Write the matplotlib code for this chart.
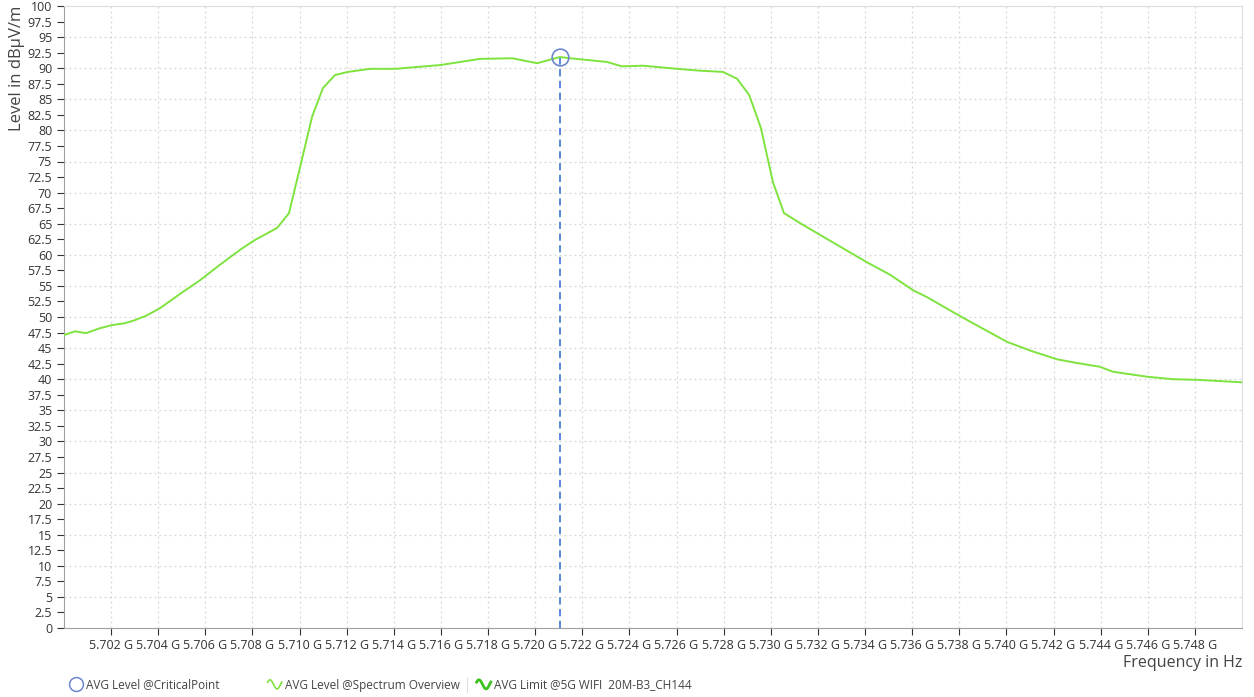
import numpy as np
import matplotlib
matplotlib.use("Agg")
import matplotlib.pyplot as plt
from matplotlib.lines import Line2D
from matplotlib.legend_handler import HandlerBase
from matplotlib.ticker import FuncFormatter, MultipleLocator

# spectrum trace (frequency in GHz, level in dBuV/m)
freq_ghz = [5.70000, 5.70047, 5.70093, 5.70153, 5.70204, 5.70259, 5.70301, 5.70348,
            5.70407, 5.70492, 5.70577, 5.70662, 5.70747, 5.70811, 5.70904, 5.70955,
            5.71002, 5.71053, 5.71099, 5.71150, 5.71205, 5.71299, 5.71405, 5.71596,
            5.71766, 5.71902, 5.72008, 5.72105, 5.72148, 5.72305, 5.72368, 5.72458,
            5.72602, 5.72700, 5.72797, 5.72857, 5.72908, 5.72958, 5.73009, 5.73056,
            5.73124, 5.73209, 5.73408, 5.73506, 5.73604, 5.73663, 5.73773, 5.73858,
            5.74003, 5.74109, 5.74215, 5.74300, 5.74397, 5.74452, 5.74597, 5.74707,
            5.74809, 5.74907, 5.75000]
level = [47.1, 47.7, 47.4, 48.2, 48.7, 49.0, 49.5, 50.2,
         51.4, 53.7, 55.9, 58.4, 60.8, 62.4, 64.3, 66.7,
         74.1, 82.2, 86.8, 88.9, 89.4, 89.9, 89.9, 90.5,
         91.5, 91.6, 90.8, 91.8, 91.6, 91.0, 90.3, 90.4,
         89.9, 89.6, 89.4, 88.3, 85.7, 80.4, 71.7, 66.7,
         65.1, 63.2, 58.8, 56.8, 54.3, 53.2, 50.8, 49.0,
         46.0, 44.5, 43.2, 42.6, 42.0, 41.2, 40.4, 40.0,
         39.9, 39.7, 39.5]

critical_freq = 5.72105
critical_level = 91.8

x_ticks = [5.702 + 0.002 * i for i in range(24)]   # 5.702 ... 5.748

legend_labels = ["AVG Level @CriticalPoint", "AVG Level @Spectrum Overview",
                 "AVG Limit @5G WIFI  20M-B3_CH144"]

trace_color = "#7fe33f"
limit_color = "#3cc21e"
marker_color = "#6e86cc"

plt.rcParams['font.family'] = ['Open Sans', 'DejaVu Sans']


class WaveHandler(HandlerBase):
    '''draws a small sine wave as the legend symbol'''
    def create_artists(self, legend, orig_handle, xdescent, ydescent,
                       width, height, fontsize, trans):
        t = np.linspace(0, 1, 30)
        xs = -xdescent + t * width
        ys = -ydescent + height / 2 + np.sin(t * 2 * np.pi + np.pi / 6) * height * 0.55
        ln = Line2D(xs, ys, color=orig_handle.get_color(),
                    lw=orig_handle.get_linewidth(), transform=trans)
        return [ln]


fig = plt.figure(figsize=(12.54, 6.97), dpi=100)
ax = fig.add_axes([64 / 1254, 69 / 697, 1178 / 1254, 622 / 697])

ax.plot(freq_ghz, level, color=trace_color, lw=1.4, zorder=3)
ax.plot([critical_freq, critical_freq], [0, critical_level], color="#4a7fd6",
        lw=1.3, ls=(0, (4, 2.5)), zorder=2)
ax.plot(critical_freq, critical_level, 'o', ms=12, mfc='none', mec=marker_color,
        mew=1.2, zorder=4)

ax.set_xlim(5.700, 5.750)
ax.set_ylim(0, 100)
ax.set_xticks(x_ticks)
ax.yaxis.set_major_locator(MultipleLocator(2.5))
ax.xaxis.set_major_formatter(FuncFormatter(lambda v, p: f"{v:.3f} G"))
ax.yaxis.set_major_formatter(FuncFormatter(lambda v, p: f"{v:g}"))

# dotted grid: vertical at every x tick, horizontal every 5
ax.grid(axis='x', color='#d6d6d6', ls=(0, (1.5, 2.5)), lw=0.9)
for g in np.arange(5, 100, 5):
    ax.axhline(g, color='#d6d6d6', ls=(0, (1.5, 2.5)), lw=0.9, zorder=0)

ax.tick_params(axis='both', labelsize=9, colors='#333333', length=5, width=0.8)
ax.tick_params(axis='x', pad=3)
for side in ['left', 'bottom']:
    ax.spines[side].set_color('#a0a0a0')
for side in ['top', 'right']:
    ax.spines[side].set_color('#dddddd')

ax.set_ylabel("Level in dBμV/m", fontsize=12, color='#444444', loc='top', labelpad=2)
ax.set_xlabel("Frequency in Hz", fontsize=11.5, color='#444444', loc='right', labelpad=2)

# legend entries along the bottom
h_crit = Line2D([], [], marker='o', ls='none', ms=10, mfc='none', mec=marker_color, mew=1.1)
h_trace = Line2D([], [], color=trace_color, lw=1.2)
h_limit = Line2D([], [], color=limit_color, lw=2.0)
anchors = [58, 257, 466]
for h, lab, xa in zip([h_crit, h_trace, h_limit], legend_labels, anchors):
    fig.legend([h], [lab], loc='center left', bbox_to_anchor=(xa / 1254, 12 / 697),
               frameon=False, fontsize=8.5, handlelength=1.2, handletextpad=0.25,
               handler_map={Line2D: WaveHandler()} if h is not h_crit else None,
               labelcolor='#444444')
fig.add_artist(Line2D([467 / 1254, 467 / 1254], [5 / 697, 19 / 697], color='#dddddd', lw=0.8))

fig.savefig("out.png", dpi=100, facecolor='white')
